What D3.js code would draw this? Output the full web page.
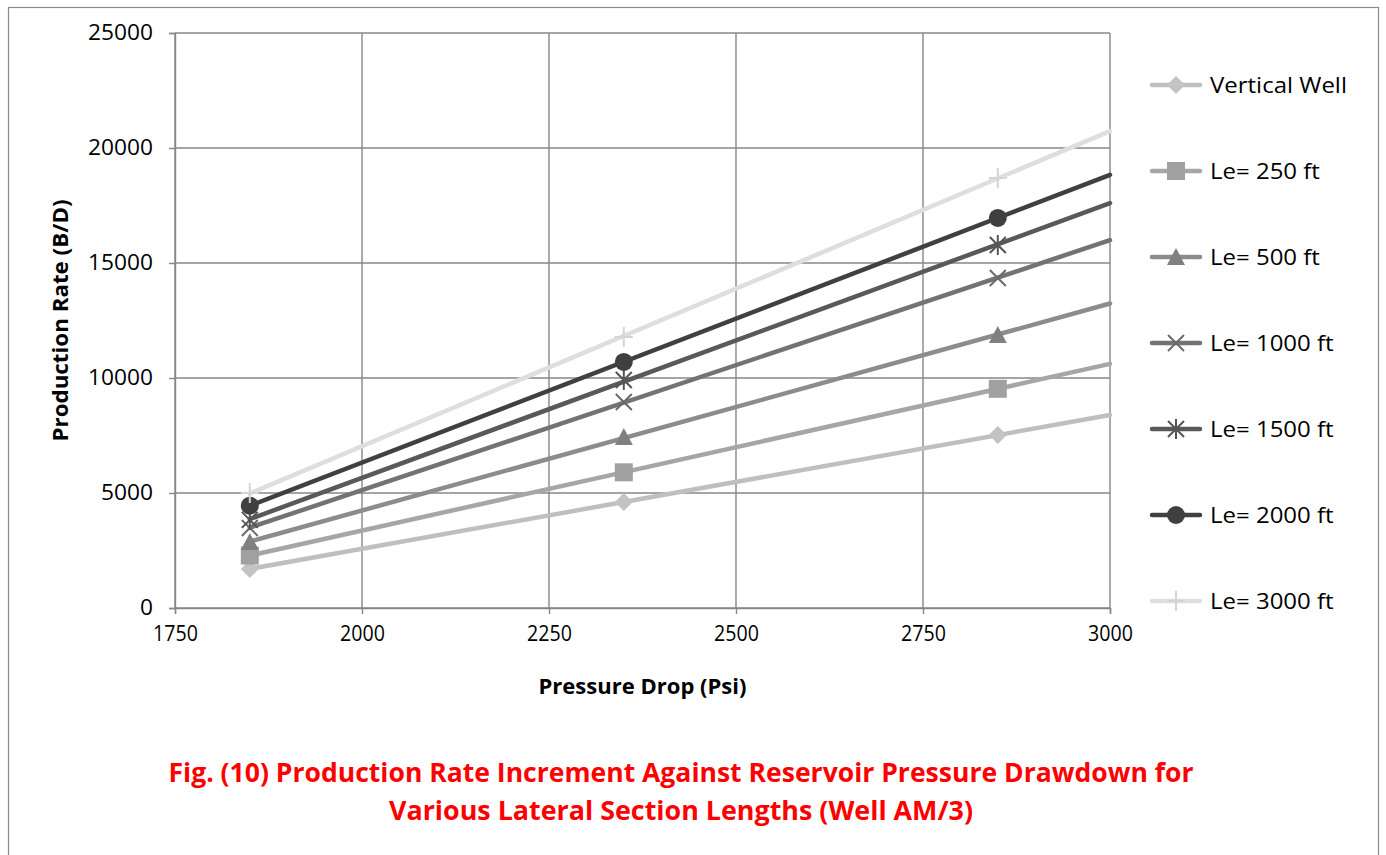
<!DOCTYPE html>
<html>
<head>
<meta charset="utf-8">
<script src="https://cdn.jsdelivr.net/npm/d3@7"></script>
<style>
  html, body { margin: 0; padding: 0; background: #ffffff; }
  svg { display: block; }
  text { font-family: "Open Sans", "Liberation Sans", sans-serif; }
</style>
</head>
<body>
<svg id="chart" width="1386" height="855"></svg>
<script>
// Pressure drop at which each production rate was computed (psi)
const pressureDrop = [1850, 2350, 2850];
// Trendlines are projected forward to this pressure drop
const trendEnd = 3000;

// Production rate (B/D) per lateral section length
const verticalWell = [1700, 4610, 7520];
const le250 = [2280, 5900, 9530];
const le500 = [2870, 7430, 11870];
const le1000 = [3480, 8960, 14350];
const le1500 = [3830, 9910, 15780];
const le2000 = [4450, 10700, 16960];
const le3000 = [5000, 11780, 18700];

const seriesNames = ["Vertical Well", "Le= 250 ft", "Le= 500 ft", "Le= 1000 ft", "Le= 1500 ft", "Le= 2000 ft", "Le= 3000 ft"];
const seriesValues = [verticalWell, le250, le500, le1000, le1500, le2000, le3000];

const xTicks = [1750, 2000, 2250, 2500, 2750, 3000];
const yTicks = [0, 5000, 10000, 15000, 20000, 25000];

// Styling per series: line colour, marker colour, marker shape
const lineColors = ["#bfbfbf", "#a6a6a6", "#8c8c8c", "#737373", "#595959", "#404040", "#dedede"];
const markerColors = ["#c3c3c3", "#a0a0a0", "#808080", "#6b6b6b", "#555555", "#3f3f3f", "#d4d4d4"];
const markerShapes = ["diamond", "square", "triangle", "x", "star", "circle", "plus"];

const svg = d3.select("#chart");

// outer frame
svg.append("rect")
  .attr("x", 8.5).attr("y", 7.5)
  .attr("width", 1370).attr("height", 900)
  .attr("fill", "none").attr("stroke", "#8a8a8a").attr("stroke-width", 1.2);

const plot = { left: 175, right: 1110, top: 33, bottom: 608 };
const x = d3.scaleLinear().domain([1750, 3000]).range([plot.left, plot.right]);
const y = d3.scaleLinear().domain([0, 25000]).range([plot.bottom, plot.top]);

const gridColor = "#878787";

// gridlines
svg.append("g").selectAll("line").data(yTicks).join("line")
  .attr("x1", plot.left).attr("x2", plot.right)
  .attr("y1", d => y(d)).attr("y2", d => y(d))
  .attr("stroke", gridColor).attr("stroke-width", 1.4);
svg.append("g").selectAll("line").data(xTicks).join("line")
  .attr("x1", d => x(d)).attr("x2", d => x(d))
  .attr("y1", plot.top).attr("y2", plot.bottom)
  .attr("stroke", gridColor).attr("stroke-width", 1.4);

// axes
const yAxis = svg.append("g")
  .attr("transform", `translate(${plot.left},0)`)
  .call(d3.axisLeft(y).tickValues(yTicks).tickSize(6).tickPadding(16).tickFormat(d3.format("d")));
const xAxis = svg.append("g")
  .attr("transform", `translate(0,${plot.bottom})`)
  .call(d3.axisBottom(x).tickValues(xTicks).tickSize(6).tickPadding(12).tickFormat(d3.format("d")));

[yAxis, xAxis].forEach(g => {
  g.select(".domain").attr("stroke", gridColor).attr("stroke-width", 1.4);
  g.selectAll(".tick line").attr("stroke", gridColor).attr("stroke-width", 1.4);
  g.selectAll(".tick text").attr("fill", "#000").attr("font-size", 21)
    .attr("font-family", "'Open Sans', sans-serif");
});
yAxis.selectAll(".tick text").attr("textLength", d => String(d).length * 13).attr("lengthAdjust", "spacingAndGlyphs");
xAxis.selectAll(".tick text").attr("textLength", d => String(d).length * 11.2).attr("lengthAdjust", "spacingAndGlyphs");

// axis titles
svg.append("text")
  .attr("transform", `translate(68,${(plot.top + plot.bottom) / 2}) rotate(-90)`)
  .attr("text-anchor", "middle")
  .attr("font-size", 21).attr("font-weight", "bold")
  .attr("textLength", 242).attr("lengthAdjust", "spacingAndGlyphs")
  .text("Production Rate (B/D)");
svg.append("text")
  .attr("x", (plot.left + plot.right) / 2).attr("y", 694)
  .attr("text-anchor", "middle")
  .attr("font-size", 21).attr("font-weight", "bold")
  .attr("textLength", 208).attr("lengthAdjust", "spacingAndGlyphs")
  .text("Pressure Drop (Psi)");

// least-squares linear fit of a series against pressure drop
function linearFit(xs, ys) {
  const mx = d3.mean(xs), my = d3.mean(ys);
  let sxy = 0, sxx = 0;
  xs.forEach((xv, i) => { sxy += (xv - mx) * (ys[i] - my); sxx += (xv - mx) * (xv - mx); });
  const slope = sxy / sxx;
  return xv => my + slope * (xv - mx);
}

// marker drawing
function drawMarker(g, shape, cx, cy, color) {
  const s = 9;
  if (shape === "diamond") {
    g.append("path").attr("d", `M${cx},${cy - s}L${cx + s},${cy}L${cx},${cy + s}L${cx - s},${cy}Z`).attr("fill", color);
  } else if (shape === "square") {
    g.append("rect").attr("x", cx - s).attr("y", cy - s).attr("width", 2 * s).attr("height", 2 * s).attr("fill", color);
  } else if (shape === "triangle") {
    g.append("path").attr("d", `M${cx},${cy - s}L${cx + s},${cy + s - 1}L${cx - s},${cy + s - 1}Z`).attr("fill", color);
  } else if (shape === "circle") {
    g.append("circle").attr("cx", cx).attr("cy", cy).attr("r", s).attr("fill", color);
  } else if (shape === "x" || shape === "star") {
    const k = s - 1;
    g.append("path").attr("d", `M${cx - k},${cy - k}L${cx + k},${cy + k}M${cx - k},${cy + k}L${cx + k},${cy - k}` +
      (shape === "star" ? `M${cx},${cy - s - 1}L${cx},${cy + s + 1}` : ""))
      .attr("stroke", color).attr("stroke-width", 2).attr("fill", "none");
  } else if (shape === "plus") {
    g.append("path").attr("d", `M${cx - s},${cy}L${cx + s},${cy}M${cx},${cy - s - 1}L${cx},${cy + s + 1}`)
      .attr("stroke", color).attr("stroke-width", 2).attr("fill", "none");
  }
}

// trendlines, from the first measured pressure drop to the projection end
const lineLayer = svg.append("g");
const markerLayer = svg.append("g");
seriesValues.forEach((vals, i) => {
  const fit = linearFit(pressureDrop, vals);
  const x0 = pressureDrop[0];
  lineLayer.append("line")
    .attr("x1", x(x0)).attr("y1", y(fit(x0)))
    .attr("x2", x(trendEnd)).attr("y2", y(fit(trendEnd)))
    .attr("stroke", lineColors[i]).attr("stroke-width", 4.5).attr("stroke-linecap", "round");
  const g = markerLayer.append("g");
  vals.forEach((v, j) => drawMarker(g, markerShapes[i], x(pressureDrop[j]), y(v), markerColors[i]));
});

// legend
const legend = svg.append("g");
seriesNames.forEach((name, i) => {
  const cy = 85 + i * 86;
  const g = legend.append("g");
  g.append("line").attr("x1", 1152).attr("x2", 1200).attr("y1", cy).attr("y2", cy)
    .attr("stroke", lineColors[i]).attr("stroke-width", 4.5).attr("stroke-linecap", "round");
  drawMarker(g, markerShapes[i], 1176, cy, markerColors[i]);
  const t = g.append("text").attr("x", 1210).attr("y", cy).attr("dy", "0.36em")
    .attr("font-size", 22).attr("fill", "#000")
    .text(name);
  const w = t.node().getComputedTextLength();
  t.attr("textLength", w * 1.09).attr("lengthAdjust", "spacingAndGlyphs");
});

// figure caption
const caption = ["Fig. (10) Production Rate Increment Against Reservoir Pressure Drawdown for",
                 "Various Lateral Section Lengths (Well AM/3)"];
const captionWidths = [1025, 584];
caption.forEach((line, i) => {
  svg.append("text")
    .attr("x", 681).attr("y", 782 + i * 38)
    .attr("text-anchor", "middle")
    .attr("font-size", 27).attr("font-weight", "bold").attr("fill", "#ff0000")
    .attr("textLength", captionWidths[i]).attr("lengthAdjust", "spacingAndGlyphs")
    .text(line);
});
</script>
</body>
</html>
